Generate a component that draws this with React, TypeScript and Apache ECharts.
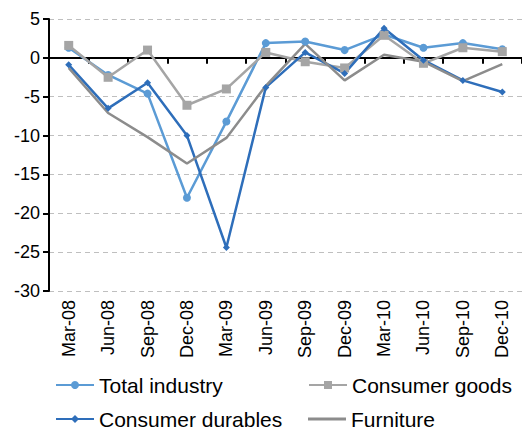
import React, { useEffect, useRef } from "react";
import * as echarts from "echarts";

const categories = ["Mar-08", "Jun-08", "Sep-08", "Dec-08", "Mar-09", "Jun-09", "Sep-09", "Dec-09", "Mar-10", "Jun-10", "Sep-10", "Dec-10"];
const totalIndustry = [1.3, -2.2, -4.6, -18.0, -8.2, 1.9, 2.1, 1.0, 3.0, 1.3, 1.9, 1.1];
const consumerGoods = [1.6, -2.5, 1.0, -6.1, -4.0, 0.7, -0.5, -1.3, 2.9, -0.7, 1.3, 0.8];
const consumerDurables = [-0.9, -6.5, -3.2, -10.0, -24.4, -3.8, 0.7, -2.0, 3.8, -0.3, -2.9, -4.4];
const furniture = [-1.3, -7.1, -10.2, -13.6, -10.3, -3.6, 1.8, -2.9, 0.4, -0.5, -3.0, -0.8];

const FONT = "Liberation Sans, Arial, sans-serif";

export default function App() {
  const ref = useRef<HTMLDivElement>(null);
  useEffect(() => {
    if (!ref.current) return;
    const chart = echarts.init(ref.current, undefined, { renderer: "svg" });
    const lineSeries = (name: string, data: number[], color: string, symbol: string, size: number) => ({
      name,
      type: "line",
      data,
      xAxisIndex: 0,
      symbol,
      symbolSize: size,
      showSymbol: symbol !== "none",
      lineStyle: { color, width: 2.5 },
      itemStyle: { color },
      z: 3,
    });
    const legendItem = (name: string, left: number, top: number, extra: any = {}) => ({
      left,
      top,
      padding: 0,
      orient: "horizontal",
      itemWidth: 38,
      itemHeight: 10,
      data: [name],
      textStyle: { fontSize: 21, lineHeight: 22, color: "#000", fontFamily: FONT },
      ...extra,
    });
    chart.setOption({
      animation: false,
      textStyle: { fontFamily: FONT },
      grid: { left: 49, top: 19, width: 480, height: 272, containLabel: false },
      legend: [
        legendItem("Total industry", 55, 374),
        legendItem("Consumer durables", 55, 408),
        legendItem("Consumer goods", 308, 374),
        legendItem("Furniture", 308, 408, {
          icon: "rect",
          itemHeight: 3,
          itemStyle: { color: "#8C8C8C" },
        }),
      ],
      xAxis: [
        {
          type: "category",
          data: categories,
          position: "bottom",
          boundaryGap: true,
          axisLine: { show: false, onZero: false },
          axisTick: { show: false },
          axisLabel: { rotate: 90, fontSize: 18, color: "#000", margin: 9, interval: 0, fontFamily: FONT },
        },
        {
          type: "category",
          data: categories,
          position: "bottom",
          boundaryGap: true,
          axisLine: { show: true, onZero: true, lineStyle: { color: "#000", width: 2 } },
          axisTick: { show: true, length: 6, inside: false, interval: 0, lineStyle: { color: "#000", width: 2 } },
          axisLabel: { show: false },
        },
      ],
      yAxis: {
        type: "value",
        min: -30,
        max: 5,
        interval: 5,
        axisLine: { show: true, lineStyle: { color: "#000", width: 2 } },
        axisTick: { show: true, length: 6, lineStyle: { color: "#000", width: 2 } },
        axisLabel: { fontSize: 18, color: "#000", margin: 9, fontFamily: FONT },
        splitLine: { show: true, lineStyle: { color: "#BFBFBF", type: [5, 4], width: 1 } },
      },
      series: [
        lineSeries("Total industry", totalIndustry, "#5B9BD5", "circle", 8),
        lineSeries("Consumer goods", consumerGoods, "#A5A5A5", "rect", 9),
        lineSeries("Consumer durables", consumerDurables, "#2E6EBA", "diamond", 7),
        lineSeries("Furniture", furniture, "#8C8C8C", "none", 0),
      ],
    });
    return () => chart.dispose();
  }, []);
  return <div ref={ref} style={{ position: "absolute", left: 0, top: 0, width: 522, height: 430 }} />;
}
